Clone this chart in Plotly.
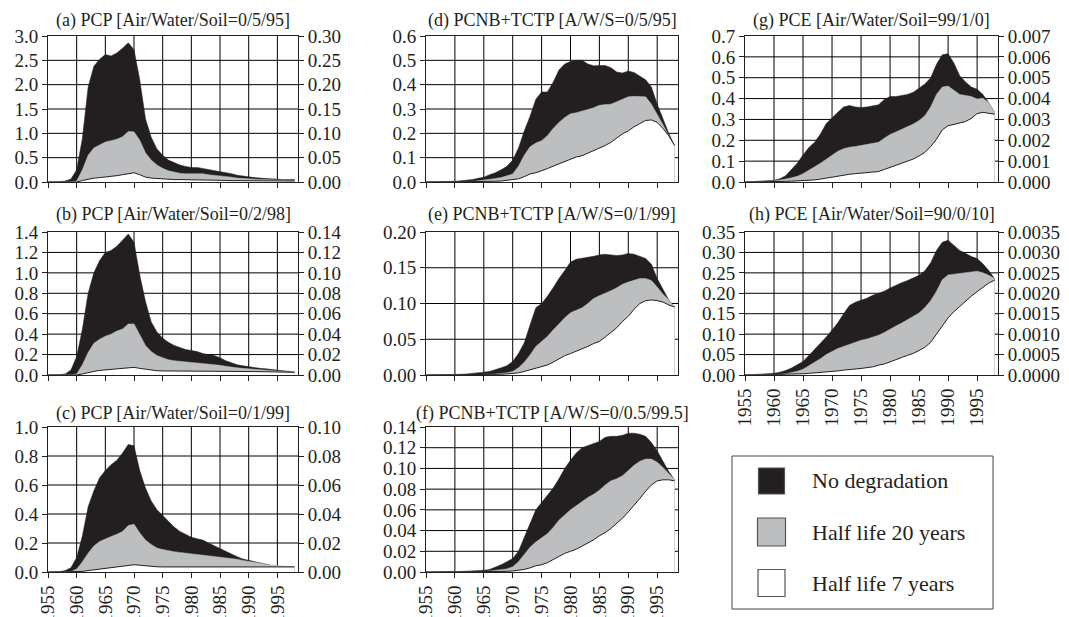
import plotly.graph_objects as go

years = list(range(1955, 1999))

# ---------------- data ----------------
a_none = [0, 0, 0.005, 0.02, 0.06, 0.25, 0.9, 1.95, 2.38, 2.52, 2.62, 2.59, 2.65, 2.75, 2.86, 2.72, 2.1, 1.3, 0.92, 0.68,
          0.55, 0.45, 0.4, 0.35, 0.32, 0.3, 0.3, 0.28, 0.26, 0.23, 0.21, 0.19, 0.17, 0.14, 0.12, 0.1, 0.09, 0.08, 0.07, 0.06,
          0.06, 0.05, 0.05, 0.05]
a_hl20 = [0, 0, 0, 0, 0.005, 0.02, 0.25, 0.55, 0.7, 0.76, 0.82, 0.85, 0.88, 0.93, 1.04, 1.03, 0.86, 0.6, 0.45, 0.35,
          0.28, 0.23, 0.2, 0.18, 0.17, 0.17, 0.18, 0.17, 0.15, 0.14, 0.13, 0.11, 0.1, 0.08, 0.07, 0.06, 0.06, 0.05, 0.05, 0.04,
          0.04, 0.04, 0.03, 0.03]
a_hl7 = [0, 0, 0, 0, 0, 0, 0.03, 0.06, 0.08, 0.09, 0.1, 0.11, 0.13, 0.15, 0.17, 0.19, 0.15, 0.1, 0.08, 0.07,
         0.06, 0.055, 0.05, 0.05, 0.05, 0.05, 0.05, 0.045, 0.04, 0.04, 0.035, 0.03, 0.03, 0.03, 0.025, 0.025, 0.02, 0.02, 0.02, 0.02,
         0.02, 0.02, 0.02, 0.02]
b_none = [0, 0, 0.003, 0.01, 0.05, 0.18, 0.45, 0.8, 1.0, 1.12, 1.2, 1.22, 1.26, 1.32, 1.38, 1.3, 0.98, 0.72, 0.52, 0.42,
          0.36, 0.32, 0.29, 0.27, 0.25, 0.24, 0.23, 0.21, 0.2, 0.19, 0.17, 0.14, 0.12, 0.1, 0.09, 0.08, 0.07, 0.065, 0.06, 0.055,
          0.05, 0.04, 0.035, 0.03]
b_hl20 = [0, 0, 0, 0, 0.003, 0.01, 0.1, 0.22, 0.31, 0.35, 0.38, 0.4, 0.43, 0.45, 0.5, 0.5, 0.4, 0.29, 0.23, 0.19,
          0.17, 0.15, 0.14, 0.135, 0.13, 0.125, 0.12, 0.115, 0.11, 0.1, 0.095, 0.085, 0.075, 0.07, 0.065, 0.06, 0.055, 0.05, 0.05, 0.045,
          0.04, 0.035, 0.03, 0.03]
b_hl7 = [0, 0, 0, 0, 0, 0, 0.01, 0.025, 0.035, 0.045, 0.05, 0.055, 0.06, 0.07, 0.075, 0.075, 0.065, 0.055, 0.047, 0.042,
         0.04, 0.04, 0.04, 0.04, 0.04, 0.04, 0.04, 0.04, 0.04, 0.04, 0.04, 0.04, 0.04, 0.038, 0.036, 0.035, 0.034, 0.033, 0.032, 0.03,
         0.03, 0.028, 0.027, 0.026]
c_none = [0, 0, 0.002, 0.01, 0.03, 0.1, 0.25, 0.45, 0.56, 0.65, 0.7, 0.74, 0.77, 0.82, 0.88, 0.87, 0.7, 0.58, 0.49, 0.43,
          0.39, 0.35, 0.31, 0.28, 0.26, 0.24, 0.23, 0.22, 0.2, 0.18, 0.16, 0.14, 0.12, 0.105, 0.09, 0.08, 0.07, 0.06, 0.05, 0.045,
          0.04, 0.038, 0.036, 0.035]
c_hl20 = [0, 0, 0, 0, 0.003, 0.02, 0.07, 0.13, 0.18, 0.21, 0.23, 0.245, 0.26, 0.28, 0.32, 0.33, 0.27, 0.22, 0.19, 0.165,
          0.155, 0.145, 0.14, 0.135, 0.13, 0.128, 0.125, 0.12, 0.115, 0.11, 0.105, 0.1, 0.095, 0.088, 0.08, 0.075, 0.068, 0.06, 0.052, 0.047,
          0.043, 0.04, 0.037, 0.035]
c_hl7 = [0, 0, 0, 0, 0, 0, 0.004, 0.01, 0.015, 0.02, 0.025, 0.03, 0.035, 0.04, 0.048, 0.05, 0.047, 0.042, 0.038, 0.036,
         0.035, 0.035, 0.035, 0.035, 0.036, 0.037, 0.038, 0.04, 0.04, 0.04, 0.04, 0.04, 0.038, 0.037, 0.036, 0.035, 0.035, 0.035, 0.035, 0.035,
         0.035, 0.035, 0.035, 0.035]
d_none = [0, 0, 0, 0.001, 0.002, 0.003, 0.005, 0.007, 0.01, 0.015, 0.02, 0.03, 0.038, 0.05, 0.065, 0.09, 0.14, 0.21, 0.27, 0.34,
          0.37, 0.37, 0.41, 0.46, 0.485, 0.495, 0.5, 0.5, 0.485, 0.478, 0.477, 0.479, 0.47, 0.452, 0.448, 0.456, 0.45, 0.435, 0.42, 0.39,
          0.32, 0.26, 0.2, 0.15]
d_hl20 = [0, 0, 0, 0, 0, 0, 0.001, 0.002, 0.003, 0.005, 0.007, 0.01, 0.014, 0.018, 0.025, 0.033, 0.065, 0.11, 0.145, 0.16,
          0.17, 0.19, 0.22, 0.245, 0.265, 0.28, 0.285, 0.29, 0.298, 0.305, 0.315, 0.318, 0.32, 0.33, 0.34, 0.35, 0.352, 0.352, 0.35, 0.32,
          0.28, 0.235, 0.19, 0.15]
d_hl7 = [0, 0, 0, 0, 0, 0, 0, 0, 0, 0, 0.001, 0.002, 0.003, 0.004, 0.006, 0.008, 0.013, 0.022, 0.033, 0.038,
         0.045, 0.055, 0.065, 0.075, 0.085, 0.095, 0.103, 0.108, 0.118, 0.128, 0.137, 0.15, 0.163, 0.18, 0.198, 0.21, 0.227, 0.24, 0.253, 0.255,
         0.245, 0.22, 0.19, 0.15]
e_none = [0, 0, 0, 0, 0, 0.0005, 0.001, 0.0015, 0.002, 0.003, 0.004, 0.005, 0.007, 0.01, 0.013, 0.019, 0.03, 0.045, 0.07, 0.094,
          0.1, 0.11, 0.122, 0.135, 0.146, 0.158, 0.162, 0.163, 0.164, 0.166, 0.168, 0.169, 0.168, 0.167, 0.168, 0.17, 0.169, 0.166, 0.163, 0.155,
          0.135, 0.12, 0.105, 0.095]
e_hl20 = [0, 0, 0, 0, 0, 0, 0, 0, 0, 0, 0.0005, 0.001, 0.0015, 0.002, 0.003, 0.005, 0.01, 0.018, 0.028, 0.04,
          0.047, 0.054, 0.063, 0.072, 0.08, 0.087, 0.091, 0.094, 0.1, 0.107, 0.111, 0.114, 0.118, 0.122, 0.127, 0.13, 0.133, 0.135, 0.135, 0.132,
          0.123, 0.113, 0.105, 0.095]
e_hl7 = [0, 0, 0, 0, 0, 0, 0, 0, 0, 0, 0, 0, 0.0005, 0.001, 0.0015, 0.002, 0.003, 0.005, 0.007, 0.009,
         0.011, 0.014, 0.018, 0.023, 0.027, 0.03, 0.033, 0.036, 0.04, 0.044, 0.047, 0.053, 0.059, 0.066, 0.075, 0.082, 0.092, 0.1, 0.104, 0.105,
         0.104, 0.102, 0.098, 0.095]
f_none = [0, 0, 0, 0, 0, 0.0003, 0.0005, 0.0008, 0.001, 0.0013, 0.0017, 0.0025, 0.0045, 0.007, 0.01, 0.013, 0.02, 0.033, 0.047, 0.06,
          0.067, 0.074, 0.081, 0.09, 0.1, 0.108, 0.115, 0.12, 0.122, 0.124, 0.126, 0.13, 0.131, 0.131, 0.132, 0.134, 0.134, 0.133, 0.131, 0.125,
          0.117, 0.107, 0.097, 0.089]
f_hl20 = [0, 0, 0, 0, 0, 0, 0, 0, 0, 0, 0.0005, 0.001, 0.0015, 0.002, 0.003, 0.005, 0.01, 0.017, 0.024, 0.029,
          0.033, 0.037, 0.043, 0.05, 0.055, 0.06, 0.064, 0.068, 0.072, 0.075, 0.079, 0.084, 0.088, 0.09, 0.093, 0.098, 0.103, 0.107, 0.109, 0.109,
          0.106, 0.101, 0.095, 0.089]
f_hl7 = [0, 0, 0, 0, 0, 0, 0, 0, 0, 0, 0, 0, 0, 0.0003, 0.0006, 0.001, 0.0015, 0.0025, 0.004, 0.006,
         0.007, 0.009, 0.012, 0.015, 0.018, 0.02, 0.022, 0.025, 0.028, 0.031, 0.035, 0.038, 0.042, 0.047, 0.052, 0.058, 0.064, 0.071, 0.078, 0.084,
         0.088, 0.089, 0.089, 0.088]
g_none = [0, 0.001, 0.002, 0.004, 0.006, 0.008, 0.015, 0.03, 0.06, 0.09, 0.13, 0.165, 0.19, 0.23, 0.28, 0.31, 0.335, 0.36, 0.367, 0.36,
          0.357, 0.36, 0.365, 0.37, 0.395, 0.41, 0.41, 0.415, 0.42, 0.43, 0.45, 0.47, 0.5, 0.565, 0.61, 0.615, 0.57, 0.51, 0.48, 0.455,
          0.445, 0.42, 0.38, 0.335]
g_hl20 = [0, 0, 0.001, 0.002, 0.003, 0.005, 0.008, 0.014, 0.02, 0.027, 0.04, 0.055, 0.073, 0.09, 0.11, 0.13, 0.147, 0.16, 0.167, 0.17,
          0.175, 0.183, 0.187, 0.19, 0.21, 0.228, 0.24, 0.252, 0.265, 0.278, 0.295, 0.318, 0.36, 0.42, 0.455, 0.46, 0.44, 0.42, 0.415, 0.41,
          0.398, 0.402, 0.38, 0.335]
g_hl7 = [0, 0, 0, 0, 0.001, 0.001, 0.002, 0.003, 0.004, 0.005, 0.006, 0.008, 0.01, 0.014, 0.019, 0.023, 0.028, 0.033, 0.037, 0.04,
         0.042, 0.044, 0.047, 0.05, 0.06, 0.07, 0.08, 0.09, 0.1, 0.11, 0.125, 0.142, 0.17, 0.205, 0.25, 0.27, 0.276, 0.282, 0.29, 0.305,
         0.328, 0.334, 0.33, 0.325]
h_none = [0, 0.001, 0.001, 0.002, 0.003, 0.004, 0.007, 0.011, 0.017, 0.024, 0.033, 0.048, 0.063, 0.077, 0.093, 0.11, 0.128, 0.15, 0.17, 0.178,
          0.183, 0.188, 0.195, 0.2, 0.205, 0.213, 0.22, 0.226, 0.231, 0.237, 0.244, 0.255, 0.275, 0.305, 0.325, 0.33, 0.318, 0.305, 0.298, 0.29,
          0.285, 0.272, 0.256, 0.236]
h_hl20 = [0, 0, 0, 0, 0.001, 0.001, 0.002, 0.003, 0.006, 0.009, 0.014, 0.022, 0.031, 0.04, 0.05, 0.058, 0.065, 0.07, 0.075, 0.08,
          0.085, 0.088, 0.092, 0.097, 0.104, 0.113, 0.12, 0.127, 0.135, 0.142, 0.152, 0.165, 0.182, 0.205, 0.233, 0.245, 0.247, 0.248, 0.25, 0.252,
          0.254, 0.25, 0.244, 0.236]
h_hl7 = [0, 0, 0, 0, 0, 0.001, 0.001, 0.002, 0.002, 0.003, 0.003, 0.004, 0.005, 0.006, 0.007, 0.008, 0.01, 0.012, 0.013, 0.014,
         0.016, 0.018, 0.02, 0.024, 0.027, 0.032, 0.038, 0.043, 0.048, 0.053, 0.06, 0.068, 0.08, 0.1, 0.122, 0.14, 0.155, 0.168, 0.18, 0.193,
         0.204, 0.215, 0.225, 0.232]

titles = ["(a) PCP [Air/Water/Soil=0/5/95]", "(b) PCP [Air/Water/Soil=0/2/98]", "(c) PCP [Air/Water/Soil=0/1/99]",
          "(d) PCNB+TCTP [A/W/S=0/5/95]", "(e) PCNB+TCTP [A/W/S=0/1/99]", "(f) PCNB+TCTP [A/W/S=0/0.5/99.5]",
          "(g) PCE [Air/Water/Soil=99/1/0]", "(h) PCE [Air/Water/Soil=90/0/10]"]
series = [(a_none, a_hl20, a_hl7), (b_none, b_hl20, b_hl7), (c_none, c_hl20, c_hl7),
          (d_none, d_hl20, d_hl7), (e_none, e_hl20, e_hl7), (f_none, f_hl20, f_hl7),
          (g_none, g_hl20, g_hl7), (h_none, h_hl20, h_hl7)]
y_max = [3.0, 1.4, 1.0, 0.6, 0.20, 0.14, 0.7, 0.35]
y_step = [0.5, 0.2, 0.2, 0.1, 0.05, 0.02, 0.1, 0.05]
y_fmt = [1, 1, 1, 1, 2, 2, 1, 2]
right_scale = [0.1, 0.1, 0.1, None, None, None, 0.01, 0.01]
right_fmt = [2, 2, 2, None, None, None, 3, 4]
legend_names = ["No degradation", "Half life 20 years", "Half life 7 years"]
x_ticks = list(range(1955, 1996, 5))

W, H = 1069, 617
col_x = [(48, 298), (426, 678), (745, 998)]
row_y = [(36, 182), (232, 375), (427, 572)]
title_y = [21, 215, 413]
pos = [(0, 0), (0, 1), (0, 2), (1, 0), (1, 1), (1, 2), (2, 0), (2, 1)]
bottom = [False, False, True, False, False, True, False, True]

INK = "#231f20"
GRAY = "#bcbec0"
GRID = "#000000"
FONT = "Liberation Serif"

fig = go.Figure()
layout = dict(width=W, height=H, margin=dict(l=0, r=0, t=0, b=0), template="none",
              paper_bgcolor="white", plot_bgcolor="rgba(0,0,0,0)", showlegend=False,
              font=dict(family=FONT, size=19, color=INK))
annotations = []
shapes = []

for i in range(8):
    n = i + 1
    sfx = "" if n == 1 else str(n)
    c, r = pos[i]
    x0, x1 = col_x[c]
    y0, y1 = row_y[r]
    none, hl20, hl7 = series[i]
    xa, ya = "x" + sfx, "y" + sfx
    fig.add_trace(go.Scatter(x=years, y=none, xaxis=xa, yaxis=ya, mode="lines", fill="tozeroy",
                             fillcolor=INK, line=dict(color=INK, width=0.5), hoverinfo="skip"))
    fig.add_trace(go.Scatter(x=years, y=hl20, xaxis=xa, yaxis=ya, mode="lines", fill="tozeroy",
                             fillcolor=GRAY, line=dict(color=GRAY, width=0.5), hoverinfo="skip"))
    fig.add_trace(go.Scatter(x=years, y=hl7, xaxis=xa, yaxis=ya, mode="lines", fill="tozeroy",
                             fillcolor="white", line=dict(color=INK, width=1), hoverinfo="skip"))
    ymx, st = y_max[i], y_step[i]
    nt = int(round(ymx / st))
    tv = [round(k * st, 6) for k in range(nt + 1)]
    layout["xaxis" + sfx] = dict(domain=[x0 / W, x1 / W], anchor=ya, range=[1955, 1998.6],
                                 tickmode="array", tickvals=x_ticks, ticktext=[str(v) for v in x_ticks],
                                 showticklabels=bottom[i], tickangle=-90, ticks="outside", ticklen=5,
                                 tickcolor=INK, showgrid=False,
                                 showline=True, linecolor=INK, linewidth=1, mirror=True, zeroline=False,
                                 tickfont=dict(family=FONT, size=19, color=INK))
    layout["yaxis" + sfx] = dict(domain=[1 - y1 / H, 1 - y0 / H], anchor=xa, range=[0, ymx],
                                 tickmode="array", tickvals=tv,
                                 ticktext=[f"{v:.{y_fmt[i]}f}" for v in tv],
                                 ticks="outside", ticklen=5, tickcolor=INK, showgrid=False,
                                 showline=True, linecolor=INK, linewidth=1, mirror=True, zeroline=False,
                                 tickfont=dict(family=FONT, size=19, color=INK))
    # grid lines placed through the axes' own scales
    for xv in x_ticks[1:]:
        shapes.append(dict(type="line", xref=xa, yref=ya + " domain", x0=xv, x1=xv, y0=0, y1=1,
                           layer="below", line=dict(color=GRID, width=1)))
    for yv in tv[1:-1]:
        shapes.append(dict(type="line", xref=xa + " domain", yref=ya, x0=0, x1=1, y0=yv, y1=yv,
                           layer="below", line=dict(color=GRID, width=1)))
    if right_scale[i] is not None:
        rn = 8 + n
        rs = right_scale[i]
        layout["yaxis" + str(rn)] = dict(overlaying=ya, side="right", anchor=xa, range=[0, ymx * rs],
                                         tickmode="array", tickvals=[v * rs for v in tv],
                                         ticktext=[f"{v * rs:.{right_fmt[i]}f}" for v in tv],
                                         ticks="outside", ticklen=5, tickcolor=INK, showgrid=False,
                                         zeroline=False, showline=False,
                                         tickfont=dict(family=FONT, size=19, color=INK))
        fig.add_trace(go.Scatter(x=years, y=[v * rs for v in none], xaxis=xa, yaxis="y" + str(rn),
                                 mode="lines", line=dict(width=0, color="rgba(0,0,0,0)"),
                                 hoverinfo="skip"))
    annotations.append(dict(text=titles[i], xref="paper", yref="paper",
                            x=(x0 + x1) / 2 / W, y=1 - title_y[r] / H, xanchor="center", yanchor="middle",
                            showarrow=False, font=dict(family=FONT, size=18, color=INK)))

shapes.append(dict(type="rect", xref="paper", yref="paper", x0=732 / W, x1=993 / W,
                   y0=1 - 609 / H, y1=1 - 456 / H, line=dict(color="#444444", width=1), fillcolor="white"))
leg_fill = [INK, GRAY, "white"]
leg_cy = [481, 532, 583]
leg_size = [26, 28, 27]
for k in range(3):
    cx, cy, s = 771.5, leg_cy[k], leg_size[k]
    shapes.append(dict(type="rect", xref="paper", yref="paper",
                       x0=(cx - s / 2) / W, x1=(cx + s / 2) / W, y0=1 - (cy + s / 2) / H, y1=1 - (cy - s / 2) / H,
                       line=dict(color="#555555", width=1.2), fillcolor=leg_fill[k]))
    annotations.append(dict(text=legend_names[k], xref="paper", yref="paper", x=810 / W, y=1 - cy / H,
                            xanchor="left", yanchor="middle", showarrow=False,
                            font=dict(family=FONT, size=22, color=INK)))

layout["annotations"] = annotations
layout["shapes"] = shapes
fig.update_layout(**layout)
fig.write_html("out.html")
